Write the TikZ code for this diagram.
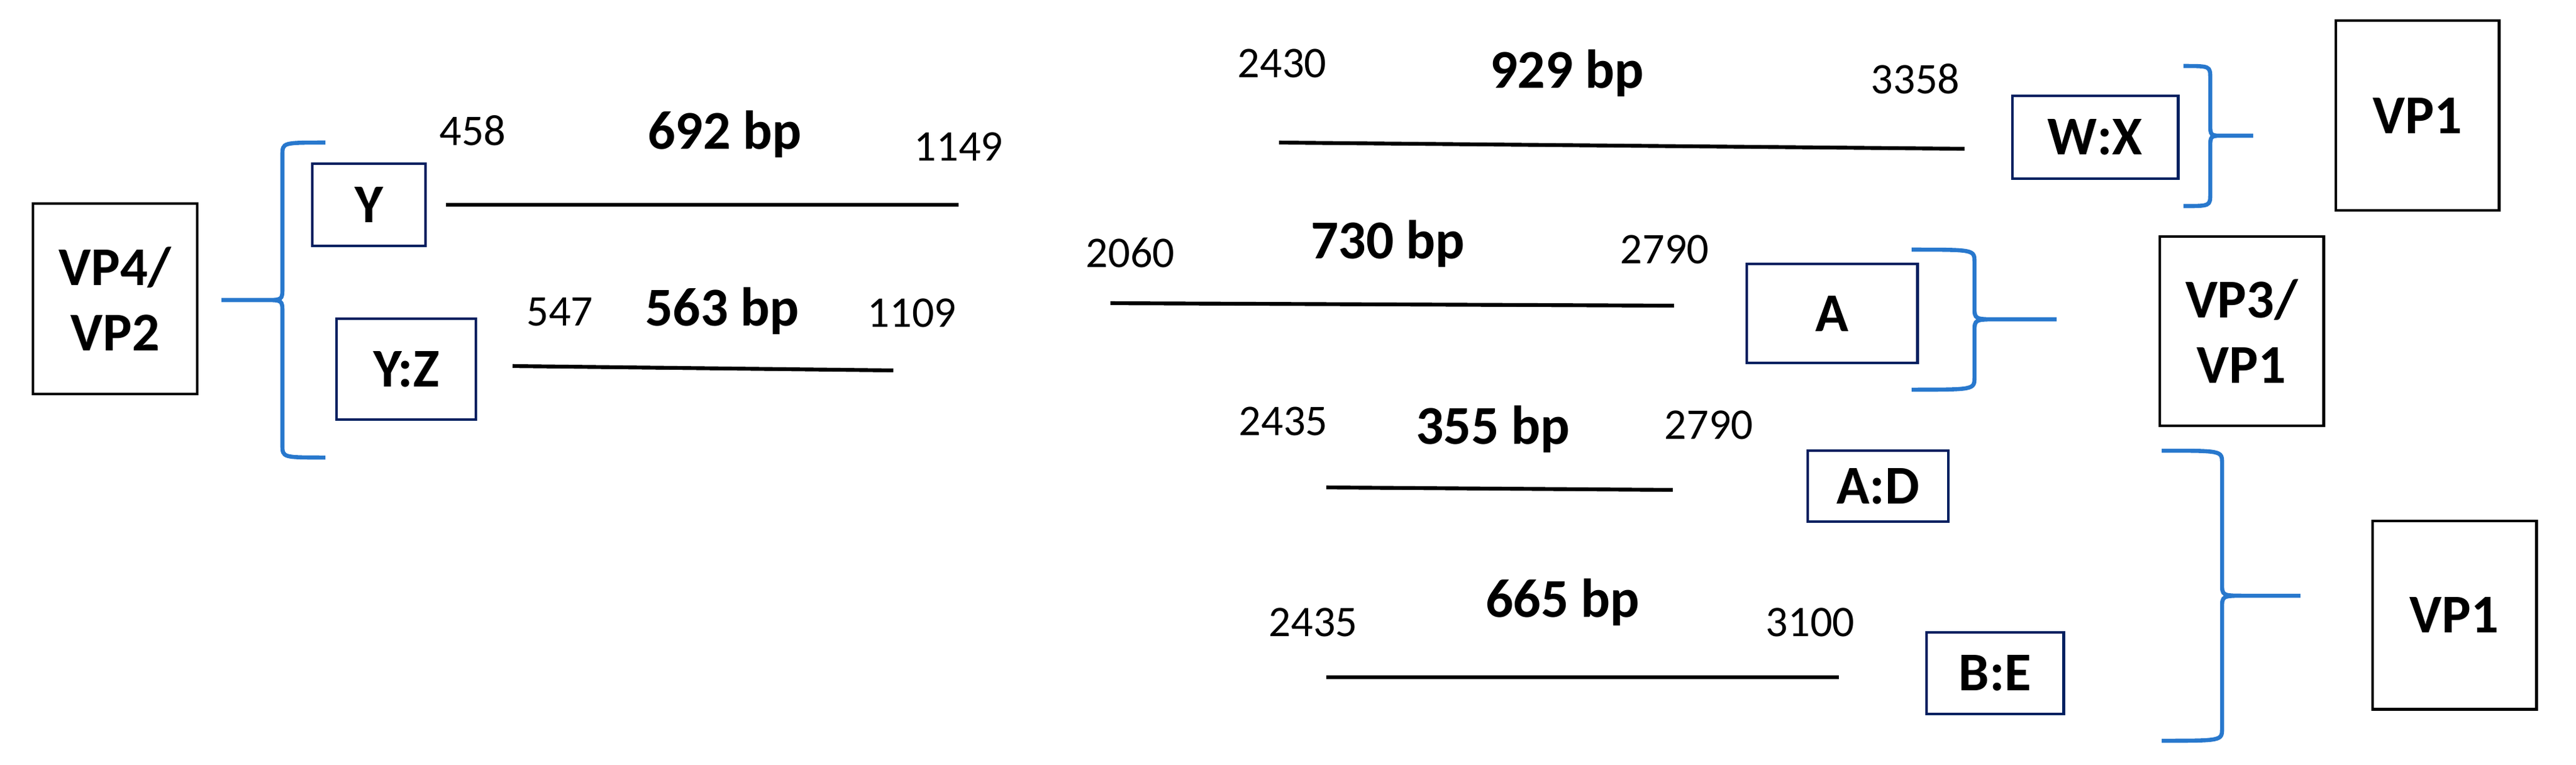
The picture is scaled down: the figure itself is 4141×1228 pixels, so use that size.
\documentclass[tikz,border=0pt]{standalone}
\usepackage{fontspec}
\setmainfont{Carlito}
\usetikzlibrary{positioning}
\definecolor{bracecol}{RGB}{40,120,205}
\definecolor{navy}{RGB}{0,32,96}

\begin{document}
\begin{tikzpicture}[x=0.04mm,y=-0.04mm]
			\useasboundingbox (0,0) rectangle (4141,1228);
			% Define the box styles
			\tikzstyle{vpbox} = [draw, line width=0.55pt, rectangle, inner sep=0pt, align=center, font=\fontsize{10}{12}\selectfont\bfseries];
			\tikzstyle{segbox} = [draw=navy, line width=0.55pt, rectangle, inner sep=0pt, font=\fontsize{10}{12}\selectfont\bfseries];
			\tikzstyle{endnum} = [anchor=base, inner sep=0pt, font=\fontsize{8}{9.6}\selectfont];
			\tikzstyle{bplabel} = [anchor=base, inner sep=0pt, font=\fontsize{10}{12}\selectfont\bfseries];
			\tikzstyle{seg} = [line width=0.7pt];
			\tikzstyle{brace} = [draw=bracecol, line width=0.75pt];
			
			% Protein boxes
			\node[vpbox, minimum width=10.56mm, minimum height=12.24mm] (vp42) at (185,480) {VP4/\\VP2};
			\node[vpbox, minimum width=10.48mm, minimum height=12.2mm] (vp1a) at (3886,185.5) {VP1};
			\node[vpbox, minimum width=10.52mm, minimum height=12.16mm] (vp31) at (3603.5,532) {VP3/\\VP1};
			\node[vpbox, minimum width=10.52mm, minimum height=12.08mm] (vp1b) at (3945.5,988) {VP1};
			
			% Primer pair boxes
			\node[segbox, minimum width=7.28mm, minimum height=5.28mm] (y) at (593,329) {Y};
			\node[segbox, minimum width=8.96mm, minimum height=6.48mm] (yz) at (653,593) {Y:Z};
			\node[segbox, minimum width=10.64mm, minimum height=5.32mm] (wx) at (3368,220.5) {W:X};
			\node[segbox, minimum width=10.96mm, minimum height=6.36mm] (a) at (2945,503.5) {A};
			\node[segbox, minimum width=9.04mm, minimum height=4.56mm] (ad) at (3019,781) {A:D};
			\node[segbox, minimum width=8.8mm, minimum height=5.24mm] (be) at (3207,1081.5) {B:E};
			
			% Amplicon bars
			\foreach \n/\xa/\ya/\xb/\yb in {y/717/329/1541/329, yz/824/588/1436/595, wx/2056/229/3158/239, a/1785/487/2691/491, ad/2132/783/2689/787, be/2132/1088/2956/1088}
			{
				\coordinate (s-\n) at (\xa,\ya);
				\coordinate (e-\n) at (\xb,\yb);
				\draw[seg] (s-\n) -- (e-\n);
			}
			
			% Start and end positions
			\foreach \i/\x/\y/\t in {1/760/233/458, 2/1541/258/1149, 3/900/523/547, 4/1466/525/1109, 5/2061/124/2430, 6/3079/150/3358, 7/1817/429/2060, 8/2676/423/2790, 9/2063/699/2435, 10/2747/705/2790, 11/2111/1022/2435, 12/2910/1022/3100}
			\node[endnum] (num\i) at (\x,\y) {\t};
			
			% Amplicon sizes
			\foreach \x/\y/\t in {1165/239/692, 1161/523/563, 2519/141/929, 2231/415/730, 2400/713/355, 2512/991/665}
			\node[bplabel] (bp\t) at (\x,\y) {\t{} bp};
			
			% Braces
			\foreach \xe/\xv/\xt/\yt/\ym/\yb in {523/454/356/229/482/735, 3510/3553/3622/106/218/331, 3073/3174/3306/401/513/626, 3475/3572/3698/724/957/1190}
			\draw[brace] (\xe,\yt) .. controls (\xv,\yt) .. (\xv,\yt+20) -- (\xv,\ym-20) .. controls (\xv,\ym) .. ({\xv+0.3*(\xt-\xv)},\ym) -- (\xt,\ym)
				({\xv+0.3*(\xt-\xv)},\ym) .. controls (\xv,\ym) .. (\xv,\ym+20) -- (\xv,\yb-20) .. controls (\xv,\yb) .. (\xe,\yb);
		\end{tikzpicture}
\end{document}
